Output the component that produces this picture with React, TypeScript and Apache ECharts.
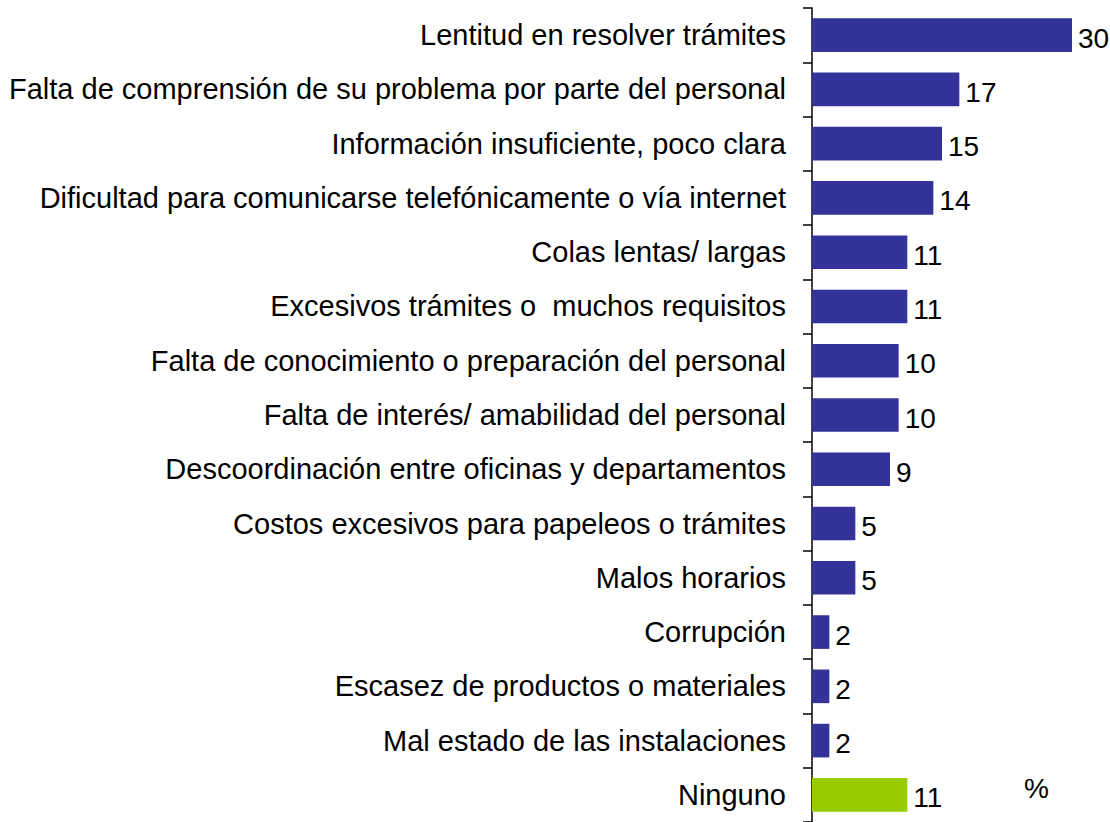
import React, { useEffect, useRef } from "react";
import * as echarts from "echarts";

const categories = [
  "Lentitud en resolver trámites",
  "Falta de comprensión de su problema por parte del personal",
  "Información insuficiente, poco clara",
  "Dificultad para comunicarse telefónicamente o vía internet",
  "Colas lentas/ largas",
  "Excesivos trámites o  muchos requisitos",
  "Falta de conocimiento o preparación del personal",
  "Falta de interés/ amabilidad del personal",
  "Descoordinación entre oficinas y departamentos",
  "Costos excesivos para papeleos o trámites",
  "Malos horarios",
  "Corrupción",
  "Escasez de productos o materiales",
  "Mal estado de las instalaciones",
  "Ninguno",
];
const values = [30, 17, 15, 14, 11, 11, 10, 10, 9, 5, 5, 2, 2, 2, 11];
const highlightCategory = "Ninguno";
const unitLabel = "%";

export default function App() {
  const ref = useRef<HTMLDivElement>(null);
  useEffect(() => {
    if (!ref.current) return;
    const chart = echarts.init(ref.current, null, { renderer: "svg" });
    const font = "'Liberation Sans', Arial, sans-serif";
    chart.setOption({
      animation: false,
      backgroundColor: "#ffffff",
      grid: { left: 812, top: 8, width: 260, height: 816, containLabel: false },
      xAxis: {
        type: "value",
        min: 0,
        max: 30,
        show: false,
      },
      yAxis: {
        type: "category",
        inverse: true,
        data: categories,
        axisLine: { show: true, lineStyle: { color: "#000", width: 1.5 } },
        axisTick: { show: true, length: 9, lineStyle: { color: "#000", width: 1.5 } },
        axisLabel: { color: "#000", fontSize: 29, fontFamily: font, margin: 26 },
        splitLine: { show: false },
      },
      series: [
        {
          type: "bar",
          barWidth: "62%",
          data: categories.map((c, i) => ({
            value: values[i],
            itemStyle: { color: c === highlightCategory ? "#99cc00" : "#333399" },
          })),
          label: {
            show: true,
            position: "right",
            distance: 6,
            color: "#000",
            fontSize: 28,
            fontFamily: font,
            offset: [0, 3],
          },
        },
      ],
      graphic: [
        {
          type: "text",
          left: 1024,
          top: 774,
          style: { text: unitLabel, fontSize: 28, fontFamily: font, fill: "#000" },
        },
      ],
    });
    return () => chart.dispose();
  }, []);
  return (
    <div
      ref={ref}
      style={{ position: "fixed", left: 0, top: 0, width: 1110, height: 822 }}
    />
  );
}
